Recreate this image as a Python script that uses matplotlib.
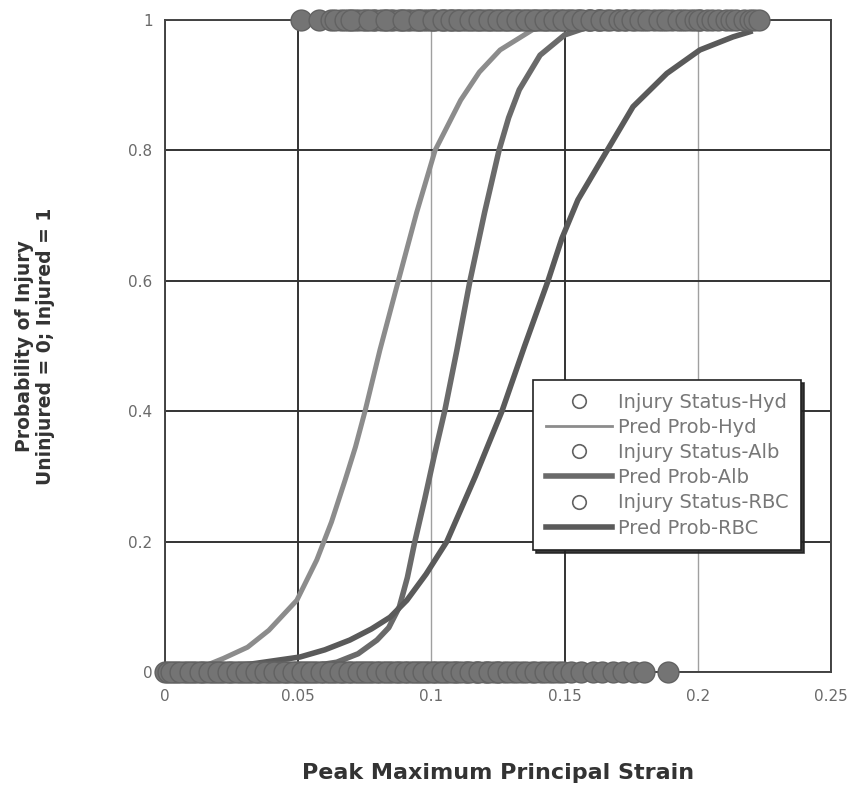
import matplotlib
matplotlib.use("Agg")
import matplotlib.pyplot as plt

# =====================================================
# DATA
# =====================================================

# predicted probability curves: strain vs probability
hyd_x = [0.010, 0.016, 0.022, 0.031, 0.039, 0.0495, 0.057, 0.0625, 0.0676, 0.0715,
         0.0751, 0.0807, 0.0876, 0.0945, 0.1014, 0.111, 0.118, 0.1258, 0.138, 0.150]
hyd_y = [0.005, 0.011, 0.021, 0.038, 0.064, 0.110, 0.172, 0.230, 0.294, 0.345,
         0.400, 0.494, 0.600, 0.705, 0.800, 0.877, 0.920, 0.954, 0.985, 0.997]

alb_x = [0.040, 0.052, 0.0645, 0.0725, 0.0796, 0.084, 0.088, 0.091, 0.0938, 0.0975,
         0.101, 0.105, 0.1096, 0.1145, 0.120, 0.1254, 0.129, 0.133, 0.1408, 0.150,
         0.158, 0.170]
alb_y = [0.003, 0.007, 0.015, 0.028, 0.049, 0.068, 0.100, 0.145, 0.200, 0.265,
         0.330, 0.400, 0.494, 0.600, 0.705, 0.800, 0.850, 0.893, 0.946, 0.977,
         0.988, 0.996]

rbc_x = [0.015, 0.032, 0.0507, 0.060, 0.0694, 0.0775, 0.0845, 0.0908, 0.098, 0.1058,
         0.1165, 0.1265, 0.135, 0.1438, 0.149, 0.155, 0.166, 0.1757, 0.1884, 0.2008,
         0.2132, 0.2196]
rbc_y = [0.006, 0.012, 0.023, 0.034, 0.049, 0.066, 0.084, 0.110, 0.150, 0.200,
         0.300, 0.400, 0.500, 0.600, 0.665, 0.724, 0.800, 0.867, 0.918, 0.954,
         0.974, 0.982]

# injury status observations (strain values at injured = 1 / uninjured = 0)
hyd_injured = [0.051, 0.058, 0.0625, 0.066, 0.069, 0.0725, 0.0755, 0.079, 0.0825, 0.0855,
               0.089, 0.092, 0.0955, 0.0985, 0.1015, 0.105, 0.1085, 0.112, 0.1155, 0.119,
               0.1225, 0.126, 0.1295, 0.133, 0.1365, 0.140, 0.1435, 0.147, 0.151, 0.155,
               0.159, 0.163]
alb_injured = [0.064, 0.0675, 0.071, 0.0745, 0.078, 0.081, 0.0845, 0.088, 0.091, 0.094,
               0.097, 0.100, 0.1035, 0.107, 0.110, 0.1135, 0.117, 0.1205, 0.124, 0.1275,
               0.131, 0.1345, 0.138, 0.1415, 0.145, 0.1485, 0.152, 0.1555, 0.159, 0.1625,
               0.166, 0.1695, 0.173, 0.1765, 0.180, 0.1835, 0.187, 0.1905, 0.194, 0.1975,
               0.201]
rbc_injured = [0.070, 0.0765, 0.083, 0.0895, 0.0955, 0.1005, 0.1045, 0.1075, 0.1105, 0.1145,
               0.118, 0.1215, 0.125, 0.1285, 0.132, 0.1355, 0.139, 0.1425, 0.146, 0.1495,
               0.153, 0.1565, 0.160, 0.1635, 0.167, 0.1705, 0.1725, 0.1755, 0.1785, 0.1815,
               0.1855, 0.1885, 0.1925, 0.1955, 0.1990, 0.2005, 0.2035, 0.2055, 0.2075, 0.2105,
               0.2125, 0.2145, 0.2175, 0.2195, 0.2210, 0.223]

hyd_uninjured = [0.000, 0.0035, 0.007, 0.0105, 0.014, 0.0175, 0.021, 0.0245, 0.028, 0.0315,
                 0.035, 0.0385, 0.042, 0.0455, 0.049, 0.0525, 0.056, 0.0595, 0.063, 0.0665,
                 0.070, 0.0735, 0.077, 0.0805, 0.084, 0.0875, 0.091, 0.0945, 0.098, 0.1015,
                 0.105, 0.109, 0.113, 0.117, 0.121, 0.125]
alb_uninjured = [0.001, 0.0047, 0.0082, 0.0117, 0.0152, 0.0187, 0.0222, 0.0257, 0.0292, 0.0327,
                 0.0362, 0.0397, 0.0432, 0.0467, 0.0502, 0.0537, 0.0572, 0.0607, 0.0642, 0.0677,
                 0.0712, 0.0747, 0.0782, 0.0817, 0.0852, 0.0887, 0.0922, 0.0957, 0.0992, 0.1027,
                 0.1062, 0.1097, 0.1132, 0.1167, 0.1202, 0.1237, 0.1272, 0.1307, 0.1342, 0.1377,
                 0.1412, 0.1447, 0.148]
rbc_uninjured = [0.0022, 0.0058, 0.0094, 0.013, 0.0166, 0.020, 0.0236, 0.027, 0.0306, 0.034,
                 0.0376, 0.041, 0.0446, 0.048, 0.0516, 0.055, 0.0586, 0.062, 0.0656, 0.069,
                 0.0726, 0.076, 0.0796, 0.083, 0.0866, 0.090, 0.0936, 0.097, 0.1006, 0.104,
                 0.1076, 0.111, 0.1146, 0.118, 0.1216, 0.125, 0.1286, 0.132, 0.1356, 0.139,
                 0.1426, 0.146, 0.1496, 0.1525, 0.156, 0.1605, 0.164, 0.168, 0.172, 0.176,
                 0.180, 0.189]

x_ticks = [0, 0.05, 0.1, 0.15, 0.2, 0.25]
x_tick_labels = ["0", "0.05", "0.1", "0.15", "0.2", "0.25"]
y_ticks = [0, 0.2, 0.4, 0.6, 0.8, 1]
y_tick_labels = ["0", "0.2", "0.4", "0.6", "0.8", "1"]

# =====================================================
# PLOT
# =====================================================

fig = plt.figure(figsize=(8.57, 7.89), dpi=100)
ax = fig.add_axes([0.1925, 0.1483, 0.7771, 0.8264])

# many overlapping open circles print as a solid grey band, so give them a grey face
circ = dict(marker="o", markersize=15, markerfacecolor="#747474",
            markeredgecolor="#626262", markeredgewidth=1.0, linestyle="none",
            zorder=5, clip_on=False)

ax.plot(hyd_injured + hyd_uninjured,
        [1] * len(hyd_injured) + [0] * len(hyd_uninjured),
        label="Injury Status-Hyd", **circ)
ax.plot(hyd_x, hyd_y, color="#8c8c8c", lw=3.6, label="Pred Prob-Hyd", zorder=3)
ax.plot(alb_injured + alb_uninjured,
        [1] * len(alb_injured) + [0] * len(alb_uninjured),
        label="Injury Status-Alb", **circ)
ax.plot(alb_x, alb_y, color="#6a6a6a", lw=4, label="Pred Prob-Alb", zorder=3)
ax.plot(rbc_injured + rbc_uninjured,
        [1] * len(rbc_injured) + [0] * len(rbc_uninjured),
        label="Injury Status-RBC", **circ)
ax.plot(rbc_x, rbc_y, color="#5a5a5a", lw=4, label="Pred Prob-RBC", zorder=3)

ax.set_xlim(0, 0.25)
ax.set_ylim(0, 1)
ax.set_xticks(x_ticks)
ax.set_xticklabels(x_tick_labels)
ax.set_yticks(y_ticks)
ax.set_yticklabels(y_tick_labels)
ax.tick_params(length=0, labelsize=11, labelcolor="#6a6a6a")
ax.tick_params(axis="x", pad=12)
ax.tick_params(axis="y", pad=9)

ax.grid(True, color="#333333", lw=1.4, zorder=0)
for i, gl in enumerate(ax.get_xgridlines()):
    if x_ticks[i] in (0.1, 0.2):
        gl.set_color("#a0a0a0")
        gl.set_linewidth(1.0)
ax.set_axisbelow(True)

for sp in ax.spines.values():
    sp.set_color("#444444")
    sp.set_linewidth(1.4)

ax.set_xlabel("Peak Maximum Principal Strain", fontsize=16, fontweight="bold",
              color="#333333", va="center")
ax.xaxis.set_label_coords(0.5, -0.155)
ax.set_ylabel("Probability of Injury\nUninjured = 0; Injured = 1", fontsize=13.5,
              fontweight="bold", color="#333333", linespacing=1.15)
ax.yaxis.set_label_coords(-0.165, 0.5)

leg = ax.legend(loc="upper left", bbox_to_anchor=(0.553, 0.448), fontsize=14,
                frameon=True, fancybox=False,
                shadow={"color": "#222222", "alpha": 0.9},
                handlelength=3.4, markerscale=0.65,
                labelspacing=0.32, borderpad=0.65, handletextpad=0.3, borderaxespad=0)
leg.get_frame().set_edgecolor("#222222")
leg.get_frame().set_linewidth(1.2)
for t in leg.get_texts():
    t.set_color("#777777")
leg.legend_handles[1].set_linewidth(2)
for h in (leg.legend_handles[0], leg.legend_handles[2], leg.legend_handles[4]):
    h.set_markeredgewidth(1.2)
    h.set_markerfacecolor("none")

fig.savefig("out.png", dpi=100)
